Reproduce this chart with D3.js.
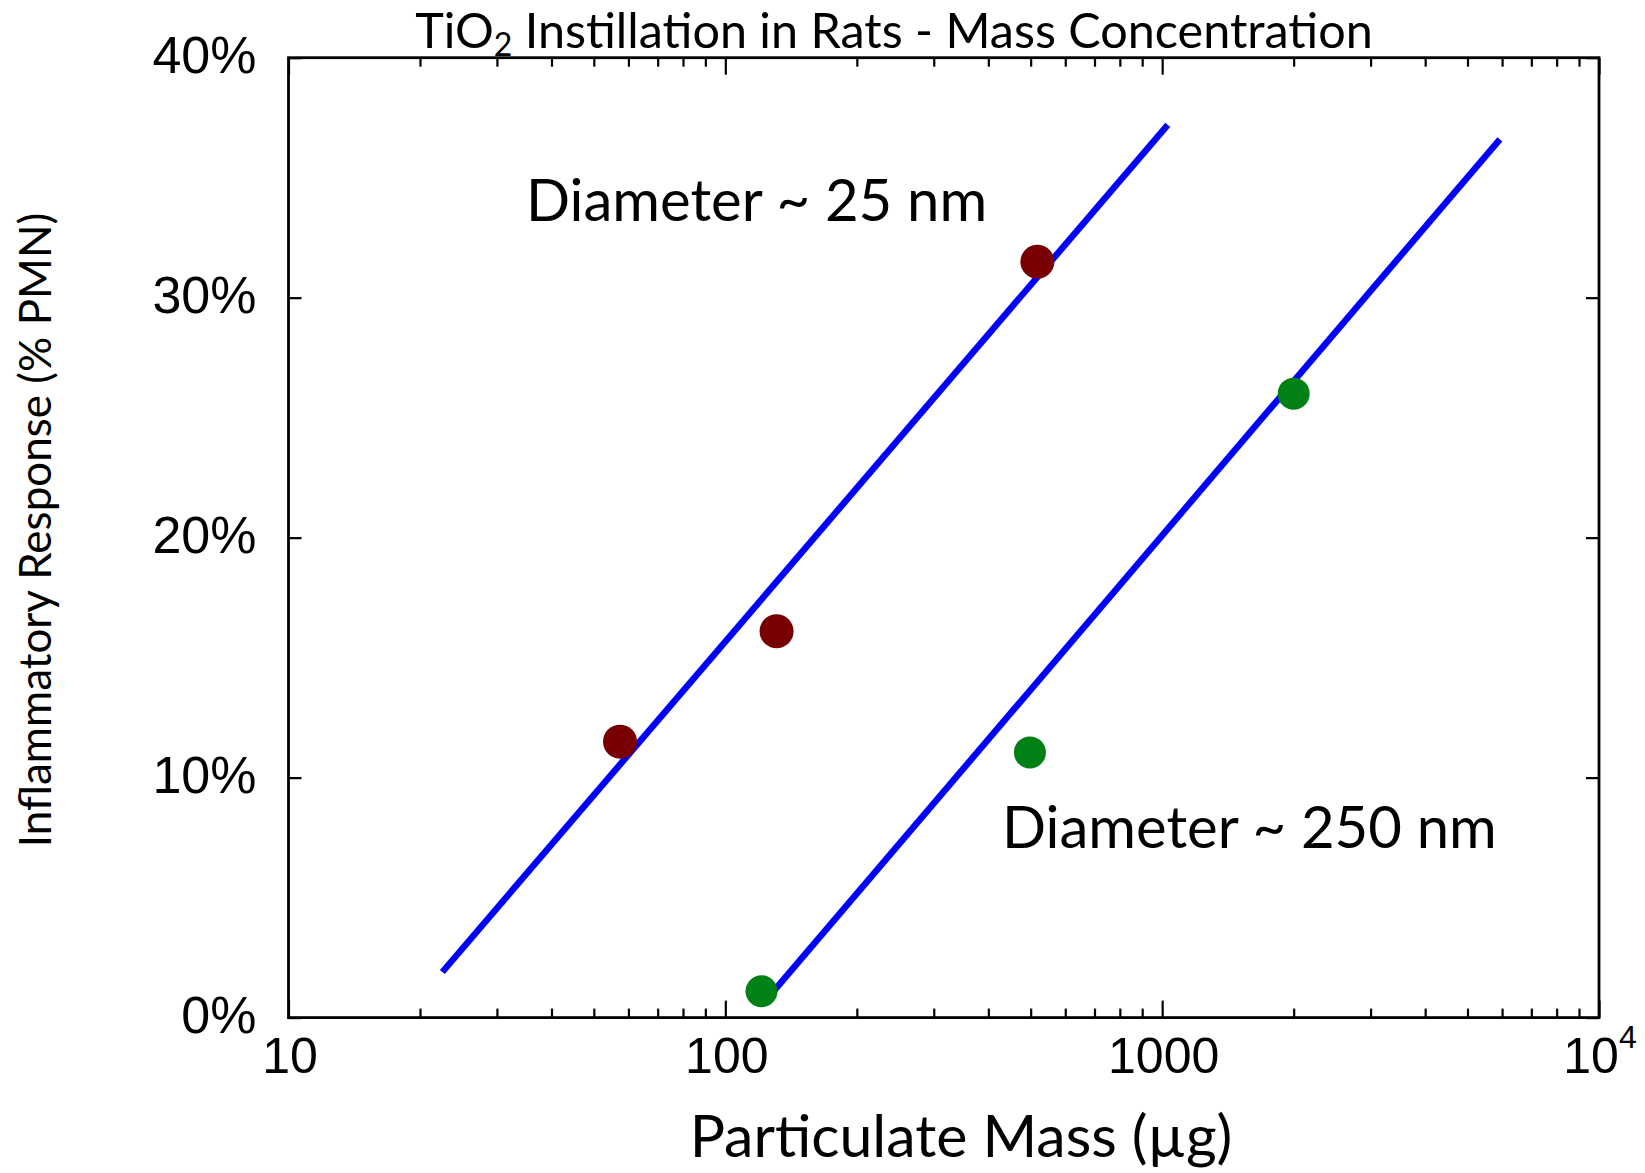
<!DOCTYPE html>
<html>
<head>
<meta charset="utf-8">
<script src="https://cdn.jsdelivr.net/npm/d3@7"></script>
<style>
  html, body { margin: 0; padding: 0; background: #fff; }
  svg { display: block; }
</style>
</head>
<body>
<svg id="chart" width="1645" height="1173"></svg>
<script>
// Measured inflammatory response (% PMN) versus instilled TiO2 mass (µg)
const smallMass = [57.4, 131, 518];
const smallResponse = [11.5, 16.1, 31.5];
const largeMass = [121, 498, 2000];
const largeResponse = [1.1, 11.05, 26.0];

// Log-linear fit lines, given by their end points
const smallFitMass = [22.5, 1030];
const smallFitResponse = [1.9, 37.2];
const largeFitMass = [129, 5930];
const largeFitResponse = [1.1, 36.6];

const xTickValues = [10, 100, 1000, 10000];
const xTickLabels = ["10", "100", "1000", "10"];
const yTickValues = [0, 10, 20, 30, 40];
const yTickLabels = ["0%", "10%", "20%", "30%", "40%"];

const titleText = "Instillation in Rats - Mass Concentration";
const yLabelText = "Inflammatory Response (% PMN)";
const xLabelText = "Particulate Mass (µg)";
const smallLabel = "Diameter ~ 25 nm";
const largeLabel = "Diameter ~ 250 nm";

const svg = d3.select("#chart");
const W = 1645, H = 1173;
const margin = { left: 288.5, right: W - 1599, top: 57.7, bottom: H - 1017.6 };

const x = d3.scaleLog().domain([10, 10000]).range([margin.left, W - margin.right]);
const y = d3.scaleLinear().domain([0, 40]).range([H - margin.bottom, margin.top]);

const calibri = "Lato, 'Open Sans', sans-serif";
const arial = "'Liberation Sans', Arial, sans-serif";

// Minor ticks on the log axis (2..9 in each decade)
const minorTicks = [];
for (let d = 10; d < 10000; d *= 10) {
  for (let k = 2; k <= 9; k++) minorTicks.push(d * k);
}

const frame = svg.append("g");

// Bottom & top axis ticks (pointing inward)
const xb = frame.append("g").attr("transform", `translate(0,${y(0)})`);
xb.call(d3.axisBottom(x).tickValues(minorTicks).tickSizeInner(-9).tickSizeOuter(0).tickFormat(""));
xb.append("g").call(d3.axisBottom(x).tickValues(xTickValues).tickSizeInner(-17).tickSizeOuter(0).tickFormat(""));
const xt = frame.append("g").attr("transform", `translate(0,${y(40)})`);
xt.call(d3.axisTop(x).tickValues(minorTicks).tickSizeInner(-9).tickSizeOuter(0).tickFormat(""));
xt.append("g").call(d3.axisTop(x).tickValues(xTickValues).tickSizeInner(-17).tickSizeOuter(0).tickFormat(""));

// Left & right axis ticks (pointing inward)
frame.append("g").attr("transform", `translate(${x(10)},0)`)
  .call(d3.axisLeft(y).tickValues(yTickValues).tickSizeInner(-13).tickSizeOuter(0).tickFormat(""));
frame.append("g").attr("transform", `translate(${x(10000)},0)`)
  .call(d3.axisRight(y).tickValues(yTickValues).tickSizeInner(-13).tickSizeOuter(0).tickFormat(""));

frame.selectAll(".domain").remove();
frame.selectAll(".tick line").attr("stroke", "#000").attr("stroke-width", 2.2);

// Plot frame
frame.append("rect")
  .attr("x", x(10)).attr("y", y(40))
  .attr("width", x(10000) - x(10)).attr("height", y(0) - y(40))
  .attr("fill", "none").attr("stroke", "#000").attr("stroke-width", 2.8);

// Y tick labels
svg.append("g").selectAll("text").data(yTickValues).join("text")
  .attr("x", x(10) - 32).attr("y", d => y(d) + 15)
  .attr("text-anchor", "end")
  .attr("font-family", arial).attr("font-size", 52)
  .text((d, i) => yTickLabels[i]);

// X tick labels
const xl = svg.append("g").selectAll("text").data(xTickValues).join("text")
  .attr("x", d => d === 10000 ? x(d) + 1 : x(d) + 1.5).attr("y", 1073)
  .attr("text-anchor", "middle")
  .attr("font-family", arial).attr("font-size", 50)
  .text((d, i) => xTickLabels[i]);
xl.filter(d => d === 10000)
  .append("tspan").attr("dy", -25).attr("font-size", 32).text("4");

// Title with subscript
const title = svg.append("text")
  .attr("x", 894).attr("y", 48)
  .attr("text-anchor", "middle")
  .attr("font-family", calibri).attr("font-size", 48.5);
title.append("tspan").text("TiO");
title.append("tspan").attr("font-size", 32).attr("dy", 8).text("2");
title.append("tspan").attr("dy", -8).text(" " + titleText);

// Axis titles
svg.append("text")
  .attr("transform", `translate(51,${530}) rotate(-90)`)
  .attr("text-anchor", "middle")
  .attr("font-family", calibri).attr("font-size", 44)
  .text(yLabelText);
svg.append("text")
  .attr("x", 961).attr("y", 1157)
  .attr("text-anchor", "middle")
  .attr("font-family", calibri).attr("font-size", 59)
  .text(xLabelText);

// Fit lines
const line = d3.line().x(d => x(d[0])).y(d => y(d[1]));
const fits = [
  d3.zip(smallFitMass, smallFitResponse),
  d3.zip(largeFitMass, largeFitResponse)
];
svg.append("g").selectAll("path").data(fits).join("path")
  .attr("d", line)
  .attr("fill", "none").attr("stroke", "#0000ff").attr("stroke-width", 6.5);

// Data points
svg.append("g").selectAll("circle").data(d3.zip(smallMass, smallResponse)).join("circle")
  .attr("cx", d => x(d[0])).attr("cy", d => y(d[1])).attr("r", 17)
  .attr("fill", "#780000");
svg.append("g").selectAll("circle").data(d3.zip(largeMass, largeResponse)).join("circle")
  .attr("cx", d => x(d[0])).attr("cy", d => y(d[1])).attr("r", 16)
  .attr("fill", "#008015");

// Series annotations
svg.append("text")
  .attr("x", 526).attr("y", 221)
  .attr("font-family", calibri).attr("font-size", 58)
  .text(smallLabel);
svg.append("text")
  .attr("x", 1002).attr("y", 848)
  .attr("font-family", calibri).attr("font-size", 58)
  .text(largeLabel);
</script>
</body>
</html>
